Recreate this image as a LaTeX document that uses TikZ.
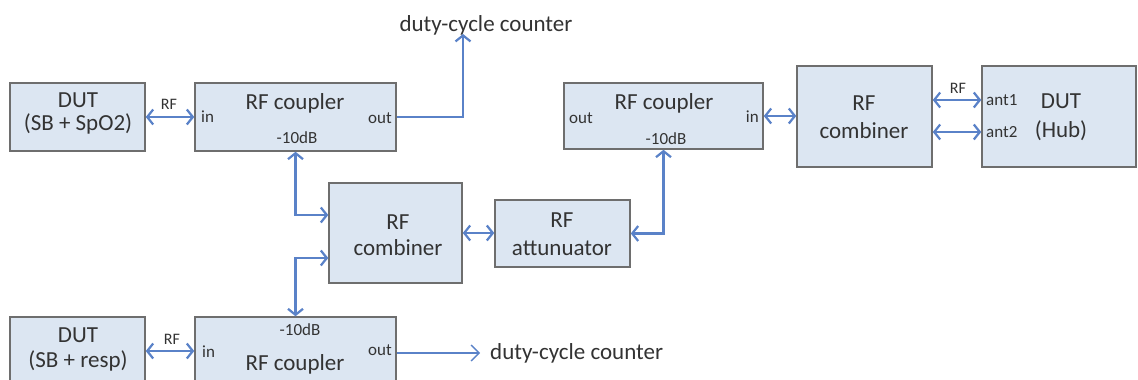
\documentclass[tikz,border=0pt]{standalone}
\usepackage{fontspec}
\setmainfont{Carlito}
\usetikzlibrary{arrows.meta,calc}
\definecolor{boxfill}{HTML}{DCE6F2}
\definecolor{boxdraw}{HTML}{6E6E6E}
\definecolor{arr}{HTML}{5A82C8}
\definecolor{txt}{HTML}{333333}
\begin{document}
\begin{tikzpicture}[x=1pt,y=-1pt,
  box/.style={draw=boxdraw, fill=boxfill, line width=1.5pt, inner sep=0pt},
  big/.style={font=\fontsize{23}{27}\selectfont, text=txt, inner sep=0pt},
  small/.style={font=\fontsize{17}{19}\selectfont, text=txt, inner sep=0pt},
  lbl/.style={font=\fontsize{16}{18}\selectfont, text=txt, inner sep=0pt},
  biarrow/.style={draw=arr, line width=2.2pt, {Straight Barb[length=6pt,width=15pt]}-{Straight Barb[length=6pt,width=15pt]}},
  uniarrow/.style={draw=arr, line width=2.2pt, -{Straight Barb[length=6pt,width=15pt]}},
  thinarrow/.style={draw=arr, line width=1.3pt, -{Straight Barb[length=8pt,width=16pt]}}]
\useasboundingbox (0,0) rectangle (1138,380);
\clip (0,0) rectangle (1138,380);
\fill[white] (0,0) rectangle (1138,380);

% boxes
\node[box, minimum width=135pt, minimum height=68pt] (dut1) at (77.5,117) {};
\node[box, minimum width=201pt, minimum height=68pt] (cpl1) at (295.5,117) {};
\node[box, minimum width=199pt, minimum height=66pt] (cpl3) at (663.5,116) {};
\node[box, minimum width=135pt, minimum height=101pt] (cmb2) at (864.5,116.5) {};
\node[box, minimum width=154pt, minimum height=101pt] (hub) at (1059,116.5) {};
\node[box, minimum width=133pt, minimum height=100pt] (cmb1) at (395.5,233) {};
\node[box, minimum width=135pt, minimum height=67pt] (att) at (562.5,233.5) {};
\node[box, minimum width=135pt, minimum height=68pt] (dut2) at (77.5,351) {};
\node[box, minimum width=201pt, minimum height=68pt] (cpl2) at (295.5,351) {};

% texts: DUT 1
\node[big] (dut1a) at (78,100) {DUT};
\node[big] (dut1b) at (78,124) {(SB + SpO2)};
% coupler 1
\node[big] (cpl1a) at (295,103) {RF coupler};
\node[small, anchor=west] (cpl1in) at (201,117) {in};
\node[small, anchor=east] (cpl1out) at (392,118) {out};
\node[small] (cpl1db) at (297,138) {-10dB};
% coupler 3
\node[big] (cpl3a) at (664,103) {RF coupler};
\node[small, anchor=west] (cpl3out) at (569,118) {out};
\node[small, anchor=east] (cpl3in) at (759,117) {in};
\node[small] (cpl3db) at (666,139) {-10dB};
% combiner 2
\node[big] (cmb2a) at (864,103) {RF};
\node[big] (cmb2b) at (864,131) {combiner};
% hub
\node[big] (huba) at (1061,101) {DUT};
\node[big] (hubb) at (1061,131) {(Hub)};
\node[small, anchor=west] (ant1) at (986,100) {ant1};
\node[small, anchor=west] (ant2) at (986,132) {ant2};
% combiner 1
\node[big] (cmb1a) at (398,222) {RF};
\node[big] (cmb1b) at (398,248) {combiner};
% attenuator
\node[big] (atta) at (562,220) {RF};
\node[big] (attb) at (562,248) {attunuator};
% DUT 2
\node[big] (dut2a) at (78,335) {DUT};
\node[big] (dut2b) at (78,361) {(SB + resp)};
% coupler 2
\node[small] (cpl2db) at (300,330) {-10dB};
\node[small, anchor=west] (cpl2in) at (202,352) {in};
\node[big] (cpl2a) at (295,364) {RF coupler};
\node[small, anchor=east] (cpl2out) at (392,350) {out};

% outside labels
\node[big] (dc1) at (486,25) {duty-cycle counter};
\node[big, anchor=west] (dc2) at (490,353) {duty-cycle counter};
\node[lbl] (rf1) at (169,104) {RF};
\node[lbl] (rf2) at (172,339) {RF};
\node[lbl] (rf3) at (958,88) {RF};

% connectors
\coordinate (c1) at (463,34);
\draw[biarrow] (dut1.east) -- (cpl1.west);
\draw[uniarrow] (cpl1.east) -| (c1);
\draw[biarrow] (cpl1.south) |- ([yshift=18pt]cmb1.west);
\draw[biarrow] (cpl2.north) |- ([yshift=-25pt]cmb1.west);
\draw[biarrow] (cmb1.east) -- (cmb1.east -| att.west);
\draw[biarrow] (att.east) -| (cpl3.south);
\draw[biarrow] (cpl3.east) -- (cpl3.east -| cmb2.west);
\draw[biarrow] ([yshift=16.5pt]cmb2.east) -- ([yshift=16.5pt]cmb2.east -| hub.west);
\draw[biarrow] ([yshift=-15.5pt]cmb2.east) -- ([yshift=-15.5pt]cmb2.east -| hub.west);
\draw[biarrow] (dut2.east) -- (cpl2.west);
\draw[thinarrow, shorten >=10pt] ([yshift=-2pt]cpl2.east) -- ([yshift=-2pt]cpl2.east -| dc2.west);
\end{tikzpicture}
\end{document}
